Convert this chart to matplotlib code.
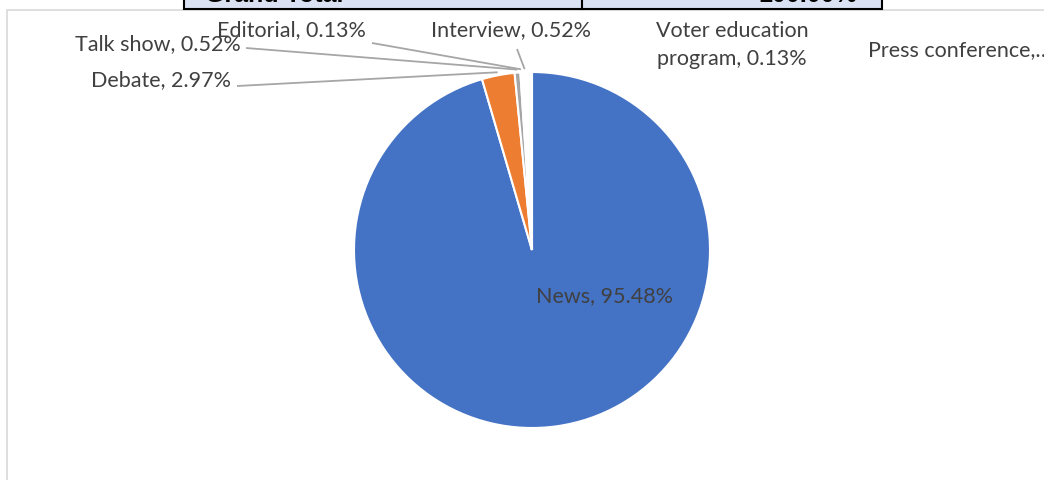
import numpy as np
import matplotlib
matplotlib.use("Agg")
import matplotlib.pyplot as plt
from matplotlib.patches import Rectangle

# --- data -------------------------------------------------------------
categories = ["News", "Debate", "Talk show", "Editorial", "Interview",
              "Voter education program", "Press conference"]
shares = [95.48, 2.97, 0.52, 0.13, 0.52, 0.13, 0.26]
label_texts = ["News, 95.48%", "Debate, 2.97%", "Talk show, 0.52%",
               "Editorial, 0.13%", "Interview, 0.52%",
               "Voter education\nprogram, 0.13%", "Press conference,\u2026"]
table_left = "Grand Total"
table_right = "100.00%"

# --- style / layout ---------------------------------------------------
W, H = 1044, 480
colors = ["#4472C4", "#ED7D31", "#A5A5A5", "#FFC000",
          "#FFFFFF", "#FFFFFF", "#FFFFFF"]
text_color = "#404040"
leader_color = "#A6A6A6"
font = "Lato"
fs = 15.5

def py(y):
    """top-down pixel row -> axes y (bottom-up)"""
    return H - y

center = (532, py(250))
radius = 178

# label anchors (x, y from top, horizontal alignment) and leader start points
label_pos = {
    "News": (604, 296, "center"),
    "Debate": (161, 80, "center"),
    "Talk show": (158, 44, "center"),
    "Editorial": (291, 30, "center"),
    "Interview": (511, 30, "center"),
    "Voter education program": (732, 45, "center"),
    "Press conference": (868, 50, "left"),
}
leader_start = {
    "Debate": (237, 86),
    "Talk show": (246, 48),
    "Editorial": (372, 43),
    "Interview": (517, 49),
}

fig = plt.figure(figsize=(W / 100, H / 100), dpi=100)
ax = fig.add_axes([0, 0, 1, 1])
ax.set_xlim(0, W)
ax.set_ylim(0, H)
ax.set_aspect("equal")
ax.axis("off")

# chart area frame
ax.add_patch(Rectangle((7, py(10) - 600), 1200, 600, fill=False,
                       edgecolor="#D9D9D9", linewidth=1.2, zorder=0))

# piece of the summary table above the chart
ax.add_patch(Rectangle((184, py(9)), 882 - 184, 40, facecolor="#D9E1F2",
                       edgecolor="black", linewidth=1.5, zorder=1))
ax.plot([582, 582], [py(9), py(-5)], color="black", lw=1.5, zorder=2)
ax.text(205, py(1.5), table_left, fontsize=18, fontweight="bold",
        family="Liberation Sans", color="black", ha="left", va="baseline")
ax.text(857, py(1.5), table_right, fontsize=18, fontweight="bold",
        family="Liberation Sans", color="black", ha="right", va="baseline")

# pie
wedges, _ = ax.pie(shares, colors=colors, startangle=90, counterclock=False,
                   center=center, radius=radius, frame=True,
                   wedgeprops=dict(edgecolor="white", linewidth=1.5))
ax.set_xlim(0, W)
ax.set_ylim(0, H)
ax.axis("off")

# labels and leader lines
for cat, txt, w in zip(categories, label_texts, wedges):
    x, y, ha = label_pos[cat]
    ax.text(x, py(y), txt, fontsize=fs, family=font, color=text_color,
            ha=ha, va="center", multialignment="center", linespacing=1.45,
            zorder=5)
    if cat in leader_start:
        mid = np.deg2rad((w.theta1 + w.theta2) / 2)
        ex = center[0] + radius * 1.017 * np.cos(mid)
        ey = center[1] + radius * 1.017 * np.sin(mid)
        sx, sy = leader_start[cat]
        ax.plot([sx, ex], [py(sy), ey], color=leader_color, lw=1.3,
                zorder=4, solid_capstyle="butt")

fig.savefig("out.png", dpi=100)
